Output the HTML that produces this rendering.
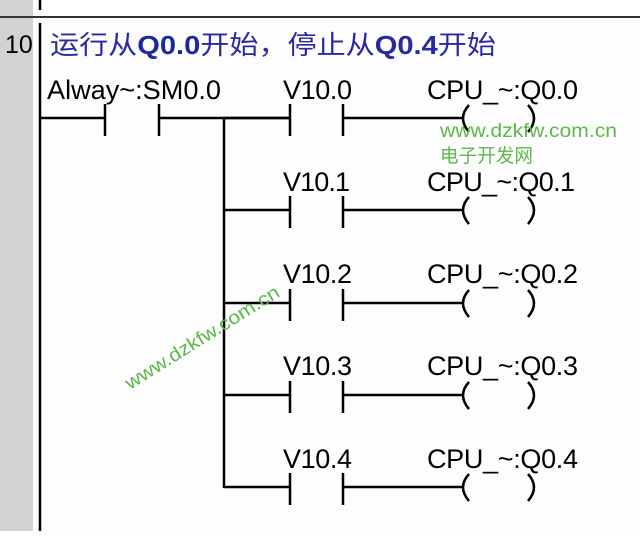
<!DOCTYPE html><html><head><style>body{margin:0}svg text{font-family:"Liberation Sans","Noto Sans CJK SC",sans-serif}</style></head><body>
<svg width="640" height="531" xmlns="http://www.w3.org/2000/svg">
<rect width="640" height="531" fill="#fdfdfd"/>
<rect width="33" height="531" fill="#d2d2d2"/>
<rect y="16" width="640" height="2" fill="#333"/>
<rect x="33" y="0" width="607" height="16" fill="#fff"/>
<g stroke="#000" stroke-width="2.5" fill="none">
<line x1="40" y1="0" x2="40" y2="10"/>
<line x1="40" y1="23" x2="40" y2="531"/>
<line x1="40" y1="118" x2="105" y2="118"/>
<line x1="105" y1="104" x2="105" y2="136"/>
<line x1="159" y1="104" x2="159" y2="136"/>
<line x1="159" y1="118" x2="290" y2="118"/>
<line x1="224" y1="118" x2="224" y2="488"/>
</g>
<text x="5" y="53" font-size="25" fill="#000">10</text>
<text x="50" y="54" font-size="26" fill="#2a2aa0" textLength="446" lengthAdjust="spacingAndGlyphs">运行从<tspan fill="#1a2a9a" font-weight="bold">Q0.0</tspan>开始，停止从<tspan font-weight="bold">Q0.4</tspan>开始</text>
<text x="47" y="99" font-size="27" fill="#000" textLength="174" lengthAdjust="spacingAndGlyphs">Alway~:SM0.0</text>
<g id="r">
<g stroke="#000" stroke-width="2.5" fill="none">
<line x1="224" y1="118" x2="290" y2="118"/>
<line x1="290" y1="104" x2="290" y2="136"/>
<line x1="343" y1="104" x2="343" y2="136"/>
<line x1="343" y1="118" x2="463" y2="118"/>
<path d="M469 105 Q457 118 469 132"/>
<path d="M528 105 Q540 118 528 132"/>
</g>
</g>
<use href="#r" y="92"/><use href="#r" y="185"/><use href="#r" y="277"/><use href="#r" y="369"/>
<g font-size="27" fill="#000" lengthAdjust="spacingAndGlyphs">
<text x="283" y="99" textLength="69">V10.0</text><text x="427" y="99" textLength="151">CPU_~:Q0.0</text>
<text x="283" y="191" textLength="67">V10.1</text><text x="427" y="191" textLength="148">CPU_~:Q0.1</text>
<text x="283" y="283" textLength="69">V10.2</text><text x="427" y="283" textLength="151">CPU_~:Q0.2</text>
<text x="283" y="375" textLength="69">V10.3</text><text x="427" y="375" textLength="151">CPU_~:Q0.3</text>
<text x="283" y="468" textLength="69">V10.4</text><text x="427" y="468" textLength="151">CPU_~:Q0.4</text>
</g>
<g fill="#5cb84a" font-size="19">
<text x="440" y="137" textLength="177" lengthAdjust="spacingAndGlyphs">www.dzkfw.com.cn</text>
<text x="440" y="162" textLength="93" lengthAdjust="spacingAndGlyphs">电子开发网</text>
<text x="0" y="0" transform="translate(130,390) rotate(-32)" textLength="178" lengthAdjust="spacingAndGlyphs">www.dzkfw.com.cn</text>
</g>
</svg></body></html>
